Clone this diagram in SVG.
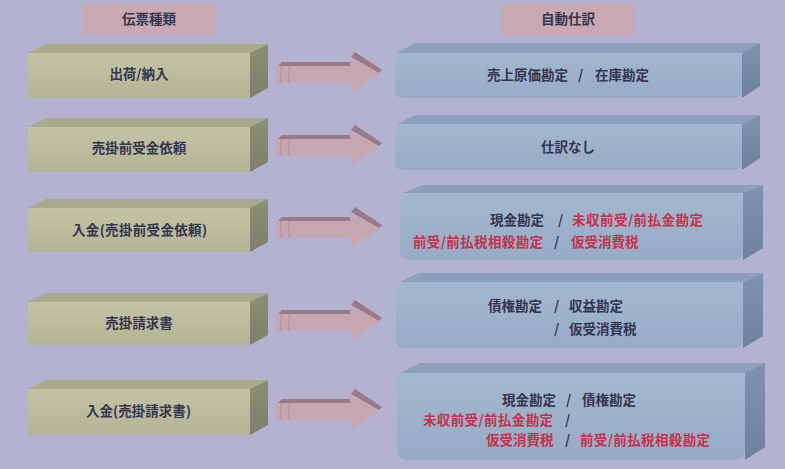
<svg xmlns="http://www.w3.org/2000/svg" width="785" height="469" viewBox="0 0 785 469">
<defs>
<linearGradient id="lf" x1="0" y1="0" x2="0" y2="1"><stop offset="0" stop-color="#c3c3a5"/><stop offset="1" stop-color="#b3b396"/></linearGradient>
<linearGradient id="ls" x1="0" y1="0" x2="0" y2="1"><stop offset="0" stop-color="#8e8e74"/><stop offset="1" stop-color="#7e7e6a"/></linearGradient>
<linearGradient id="rf" x1="0" y1="0" x2="0" y2="1"><stop offset="0" stop-color="#a3b7d0"/><stop offset="1" stop-color="#97abc6"/></linearGradient>
<linearGradient id="rs" x1="0" y1="0" x2="0" y2="1"><stop offset="0" stop-color="#8093ae"/><stop offset="1" stop-color="#6f819c"/></linearGradient>
<g id="arr">
<rect x="276" y="-7" width="76" height="17" fill="#c6a6b0"/>
<polygon points="278,-7 282,-11 352,-11 352,-7" fill="#9a7886"/>
<line x1="281" y1="-7" x2="281" y2="10" stroke="#b3929e" stroke-width="1.2"/>
<line x1="289" y1="-7" x2="289" y2="10" stroke="#b3929e" stroke-width="1.2"/>
<polygon points="350,-15 380,1 351,19" fill="#c6a6b0"/>
<polygon points="351,-16 355,-21 382,-3 379,0" fill="#9a7886"/>
</g>
</defs>
<style>
.t{font-family:"Noto Sans CJK JP","Noto Sans",sans-serif;font-size:13.5px;font-weight:bold;fill:#35354f}
.r{fill:#c4324c}
.m{text-anchor:middle}
.hd{fill:#c8a8b2}
.lt{fill:#a9a98c}
.rt{fill:#8b9fba}
</style>
<rect width="785" height="469" fill="#b3b3d1"/>

<g id="hdr1"><rect class="hd" x="82" y="4" width="134" height="31"/><text class="t m" x="149" y="24">伝票種類</text></g>
<g id="hdr2"><rect class="hd" x="501" y="4" width="134" height="31"/><text class="t m" x="568" y="24">自動仕訳</text></g>

<g id="connectors">
<use href="#arr" transform="translate(0,73)"/>
<use href="#arr" transform="translate(0,146)"/>
<use href="#arr" transform="translate(0,228)"/>
<use href="#arr" transform="translate(0,321)"/>
<use href="#arr" transform="translate(0,410)"/>
</g>

<g id="L1">
<polygon class="lt" points="28,53 46,44 268,44 250,53"/>
<polygon fill="url(#ls)" points="250,53 268,44 268,88 250,98"/>
<rect fill="url(#lf)" x="28" y="53" width="222" height="45" rx="3"/>
<text class="t m" x="139" y="79">出荷/納入</text>
</g>
<g id="L2">
<polygon class="lt" points="28,127 46,118 268,118 250,127"/>
<polygon fill="url(#ls)" points="250,127 268,118 268,162 250,172"/>
<rect fill="url(#lf)" x="28" y="127" width="222" height="45" rx="3"/>
<text class="t m" x="139" y="153">売掛前受金依頼</text>
</g>
<g id="L3">
<polygon class="lt" points="28,208 46,199 268,199 250,208"/>
<polygon fill="url(#ls)" points="250,208 268,199 268,242 250,252"/>
<rect fill="url(#lf)" x="28" y="208" width="222" height="44" rx="3"/>
<text class="t" x="72" y="235" textLength="135" lengthAdjust="spacing">入金(売掛前受金依頼)</text>
</g>
<g id="L4">
<polygon class="lt" points="28,302 46,293 268,293 250,302"/>
<polygon fill="url(#ls)" points="250,302 268,293 268,335 250,345"/>
<rect fill="url(#lf)" x="28" y="302" width="222" height="43" rx="3"/>
<text class="t m" x="139" y="328">売掛請求書</text>
</g>
<g id="L5">
<polygon class="lt" points="28,389 46,380 268,380 250,389"/>
<polygon fill="url(#ls)" points="250,389 268,380 268,425 250,435"/>
<rect fill="url(#lf)" x="28" y="389" width="222" height="46" rx="3"/>
<text class="t" x="86" y="416" textLength="105" lengthAdjust="spacing">入金(売掛請求書)</text>
</g>

<g id="R1">
<polygon class="rt" points="397,53 415,43 760,43 742,53"/>
<polygon fill="url(#rs)" points="742,53 760,43 760,86 742,98"/>
<rect fill="url(#rf)" x="395" y="53" width="347" height="45" rx="7"/>
<text class="t" y="80"><tspan x="487">売上原価勘定</tspan><tspan x="578">/</tspan><tspan x="595">在庫勘定</tspan></text>
</g>
<g id="R2">
<polygon class="rt" points="397,124 415,115 760,115 742,124"/>
<polygon fill="url(#rs)" points="742,124 760,115 760,158 742,170"/>
<rect fill="url(#rf)" x="395" y="124" width="347" height="46" rx="7"/>
<text class="t m" x="568" y="152">仕訳なし</text>
</g>
<g id="R3">
<polygon class="rt" points="403,193 423,185 763,185 743,193"/>
<polygon fill="url(#rs)" points="743,193 763,185 763,248 743,260"/>
<rect fill="url(#rf)" x="400" y="193" width="343" height="67" rx="8"/>
<text class="t" y="225"><tspan x="558">/</tspan><tspan x="490">現金勘定</tspan><tspan class="r" x="572" textLength="131" lengthAdjust="spacing">未収前受/前払金勘定</tspan></text>
<text class="t" y="247"><tspan class="r" x="413" textLength="130" lengthAdjust="spacing">前受/前払税相殺勘定</tspan><tspan x="554">/</tspan><tspan class="r" x="571">仮受消費税</tspan></text>
</g>
<g id="R4">
<polygon class="rt" points="399,282 419,273 763,273 743,282"/>
<polygon fill="url(#rs)" points="743,282 763,273 763,336 743,348"/>
<rect fill="url(#rf)" x="396" y="282" width="347" height="66" rx="8"/>
<text class="t" y="311"><tspan x="488">債権勘定</tspan><tspan x="554">/</tspan><tspan x="569">収益勘定</tspan></text>
<text class="t" y="334"><tspan x="554">/</tspan><tspan x="569">仮受消費税</tspan></text>
</g>
<g id="R5">
<polygon class="rt" points="400,373 420,363 765,363 745,373"/>
<polygon fill="url(#rs)" points="745,373 765,363 765,447 745,460"/>
<rect fill="url(#rf)" x="397" y="373" width="348" height="87" rx="9"/>
<text class="t" y="405"><tspan x="502">現金勘定</tspan><tspan x="566">/</tspan><tspan x="582">債権勘定</tspan></text>
<text class="t" y="425"><tspan class="r" x="423" textLength="130" lengthAdjust="spacing">未収前受/前払金勘定</tspan><tspan x="565">/</tspan></text>
<text class="t" y="445"><tspan class="r" x="486">仮受消費税</tspan><tspan x="565">/</tspan><tspan class="r" x="580" textLength="130" lengthAdjust="spacing">前受/前払税相殺勘定</tspan></text>
</g>
</svg>
